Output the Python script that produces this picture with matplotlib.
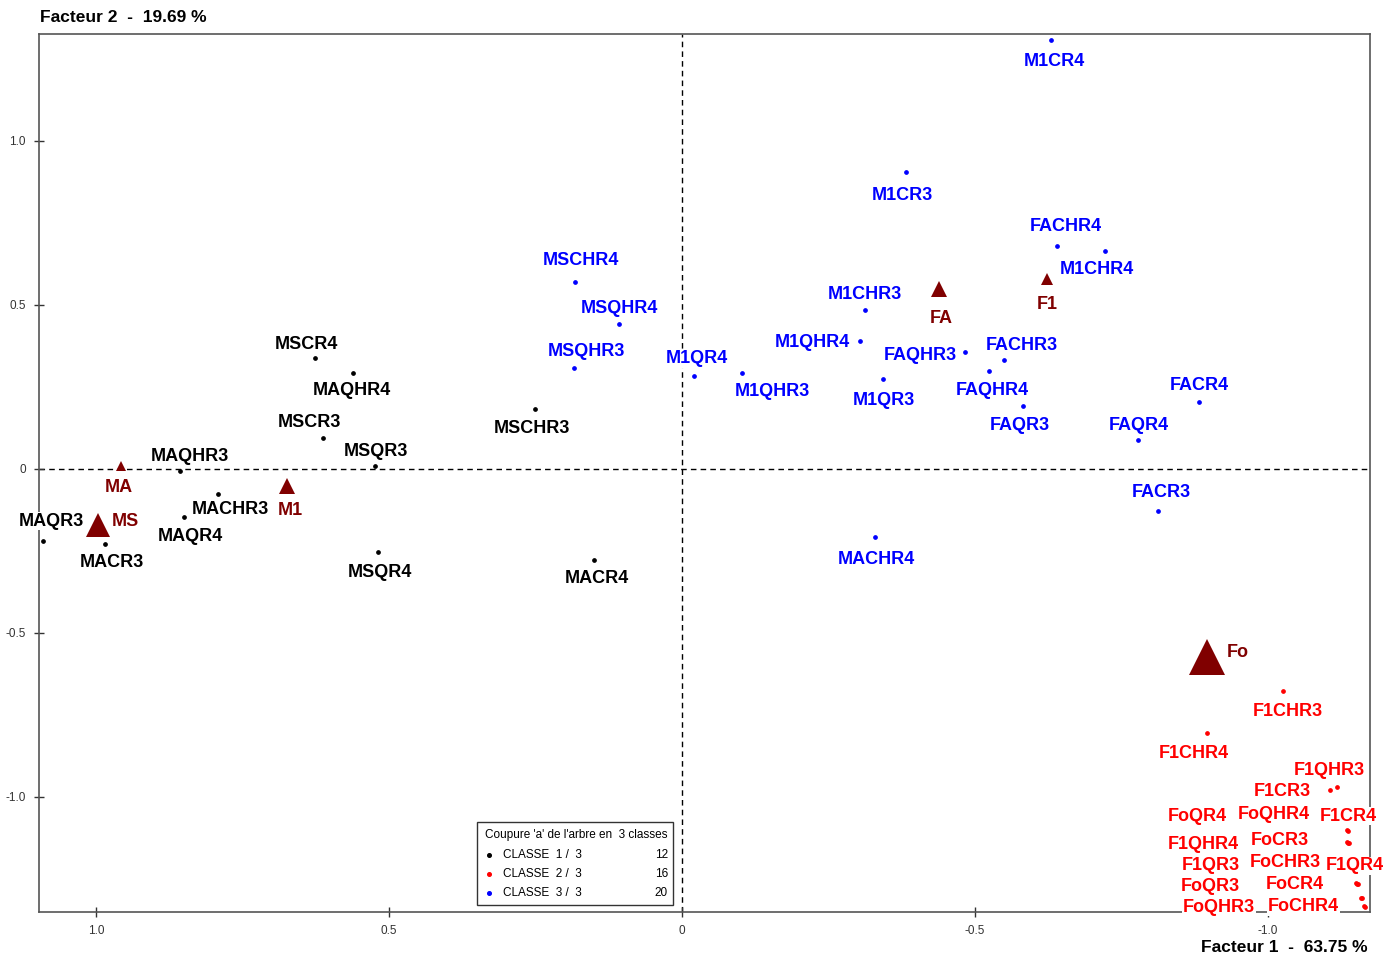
import matplotlib.pyplot as plt
from matplotlib.patches import Rectangle

plt.rcParams['font.family'] = ['Liberation Sans', 'DejaVu Sans']

# classe 1 / 3 (noir)
c1_names = ['MSCR4', 'MAQHR4', 'MSCR3', 'MSQR3', 'MSCHR3', 'MAQHR3',
            'MACHR3', 'MAQR4', 'MAQR3', 'MACR3', 'MSQR4', 'MACR4']
c1_x = [0.626, 0.561, 0.613, 0.524, 0.251, 0.857,
        0.792, 0.850, 1.090, 0.985, 0.519, 0.150]
c1_y = [0.338, 0.293, 0.095, 0.009, 0.183, -0.006,
        -0.076, -0.146, -0.220, -0.229, -0.253, -0.277]

# classe 2 / 3 (rouge)
c2_names = ['F1CHR3', 'F1CHR4', 'F1QHR3', 'F1CR3', 'F1CR4', 'FoQHR4',
            'FoQR4', 'F1QHR4', 'FoCR3', 'F1QR4', 'FoCHR3', 'F1QR3',
            'FoQR3', 'FoCR4', 'FoQHR3', 'FoCHR4']
c2_x = [-1.026, -0.896, -1.118, -1.106, -1.135, -1.136,
        -1.137, -1.138, -1.135, -1.150, -1.154, -1.152,
        -1.160, -1.159, -1.164, -1.165]
c2_y = [-0.677, -0.805, -0.970, -0.979, -1.101, -1.104,
        -1.140, -1.140, -1.137, -1.262, -1.265, -1.265,
        -1.308, -1.308, -1.332, -1.335]

# classe 3 / 3 (bleu)
c3_names = ['M1CR4', 'M1CR3', 'FACHR4', 'M1CHR4', 'MSCHR4', 'MSQHR4',
            'M1CHR3', 'MSQHR3', 'M1QR4', 'M1QHR4', 'FAQHR3', 'FACHR3',
            'M1QHR3', 'M1QR3', 'FAQHR4', 'FAQR3', 'FACR4', 'FAQR4',
            'FACR3', 'MACHR4']
c3_x = [-0.630, -0.382, -0.640, -0.722, 0.183, 0.108,
        -0.312, 0.184, -0.020, -0.304, -0.483, -0.549,
        -0.102, -0.343, -0.524, -0.582, -0.882, -0.778,
        -0.812, -0.329]
c3_y = [1.308, 0.905, 0.680, 0.665, 0.570, 0.442,
        0.485, 0.308, 0.284, 0.390, 0.357, 0.332,
        0.293, 0.274, 0.299, 0.192, 0.204, 0.088,
        -0.128, -0.207]

# modalites supplementaires (triangles)
sup_names = ['MA', 'MS', 'M1', 'FA', 'F1', 'Fo']
sup_x = [0.957, 0.997, 0.674, -0.439, -0.623, -0.896]
sup_y = [0.009, -0.171, -0.052, 0.549, 0.579, -0.573]

legend_rows = ['CLASSE  1 /  3', 'CLASSE  2 /  3', 'CLASSE  3 /  3']
legend_counts = [12, 16, 20]

# label offsets in pixels (dx right, dy down)
offs = {
    'MSCR4': (-9, -16), 'MAQHR4': (-1, 16), 'MSCR3': (-13, -17),
    'MSQR3': (1, -16), 'MSCHR3': (-3, 18), 'MAQHR3': (10, -16),
    'MACHR3': (13, 14), 'MAQR4': (7, 18), 'MAQR3': (8, -22),
    'MACR3': (7, 16), 'MSQR4': (2, 19), 'MACR4': (3, 17),
    'M1CR4': (3, 20), 'M1CR3': (-3, 21), 'FACHR4': (9, -21),
    'M1CHR4': (-8, 17), 'MSCHR4': (6, -23), 'MSQHR4': (1, -17),
    'M1CHR3': (0, -17), 'MSQHR3': (12, -18), 'M1QR4': (3, -19),
    'M1QHR4': (-48, 0), 'FAQHR3': (-45, 2), 'FACHR3': (18, -17),
    'M1QHR3': (31, 17), 'M1QR3': (1, 19), 'FAQHR4': (3, 18),
    'FAQR3': (-3, 18), 'FACR4': (0, -18), 'FAQR4': (1, -17),
    'FACR3': (3, -20), 'MACHR4': (2, 21),
    'F1CHR3': (5, 19), 'F1CHR4': (-13, 19), 'F1QHR3': (-8, -19),
    'F1CR3': (-48, 0), 'F1CR4': (1, -16), 'FoQHR4': (-74, -18),
    'FoQR4': (-151, -28), 'F1QHR4': (-146, 0), 'FoCR3': (-67, -3),
    'F1QR4': (-1, -19), 'FoCHR3': (-73, -23), 'F1QR3': (-146, -20),
    'FoQR3': (-151, -13), 'FoCR4': (-66, -15), 'FoQHR3': (-145, 0),
    'FoCHR4': (-61, -2),
    'MA': (-2, 20), 'MS': (28, -5), 'M1': (3, 23),
    'FA': (2, 28), 'F1': (0, 23), 'Fo': (31, -6),
}
sup_sizes = [7, 17, 11, 12, 8.5, 26]
dark = '#800000'

fig = plt.figure(figsize=(14, 9.56), dpi=100)
ax = fig.add_axes([39 / 1400, 44 / 956, 1331 / 1400, 878 / 956])
ax.set_xlim(1.097, -1.174)
ax.set_ylim(-1.351, 1.326)

ax.axhline(0, color='black', lw=1, ls=(0, (4, 3)), zorder=1)
ax.axvline(0, color='black', lw=1, ls=(0, (4, 3)), zorder=1)


def label(name, x, y, color):
    dx, dy = offs[name]
    ax.annotate(name, (x, y), xytext=(dx, -(dy + 2)),
                textcoords='offset pixels',
                ha='center', va='center', color=color, fontsize=13,
                fontweight='bold', annotation_clip=False, zorder=5,
                bbox=dict(facecolor='white', edgecolor='none', pad=0.5))


for names, xs, ys, col in [(c1_names, c1_x, c1_y, 'black'),
                           (c2_names, c2_x, c2_y, '#ff0000'),
                           (c3_names, c3_x, c3_y, '#0000ff')]:
    ax.plot(xs, ys, 'o', color=col, ms=2.4, ls='none', zorder=6, clip_on=False)
    for n, x, y in zip(names, xs, ys):
        label(n, x, y, col)

for n, x, y, s in zip(sup_names, sup_x, sup_y, sup_sizes):
    ax.plot(x, y, '^', color=dark, ms=s, mew=0, zorder=6)
    label(n, x, y, dark)

ax.set_xticks([1.0, 0.5, 0, -0.5, -1.0])
ax.set_xticklabels(['1.0', '0.5', '0', '-0.5', '-1.0'])
ax.set_yticks([1.0, 0.5, 0, -0.5, -1.0])
ax.set_yticklabels(['1.0', '0.5', '0', '-0.5', '-1.0'])
ax.tick_params(direction='inout', length=7, width=1, color='#333333',
               labelsize=8.5, labelcolor='#333333', pad=6)
for sp in ax.spines.values():
    sp.set_color('#555555')
    sp.set_linewidth(1.2)
    sp.set_zorder(3)

fig.text(40 / 1400, 1 - 18 / 956, 'Facteur 2  -  19.69 %', fontsize=12.5,
         fontweight='bold', va='center', ha='left')
fig.text(1368 / 1400, 1 - 948 / 956, 'Facteur 1  -  63.75 %', fontsize=12.5,
         fontweight='bold', va='center', ha='right')

# legend box
def ax_x(px):
    return (px - 39) / 1331


def ax_y(py):
    return (912 - py) / 878


ax.add_patch(Rectangle((ax_x(477), ax_y(905)), ax_x(673) - ax_x(477),
                       ax_y(822) - ax_y(905), transform=ax.transAxes,
                       facecolor='white', edgecolor='#333333', lw=1, zorder=7))
ax.text(ax_x(576), ax_y(835), "Coupure 'a' de l'arbre en  3 classes",
        transform=ax.transAxes, fontsize=8.5, ha='center', va='center', zorder=8)
for i, (row, cnt, col) in enumerate(zip(legend_rows, legend_counts,
                                        ['black', '#ff0000', '#0000ff'])):
    yy = ax_y(855 + 19 * i)
    ax.plot(ax_x(489), yy, 'o', color=col, ms=2.6, transform=ax.transAxes,
            zorder=8)
    ax.text(ax_x(503), yy, row, transform=ax.transAxes, fontsize=8.5,
            ha='left', va='center', zorder=8)
    ax.text(ax_x(668), yy, str(cnt), transform=ax.transAxes, fontsize=8.5,
            ha='right', va='center', zorder=8)

fig.savefig('out.png', dpi=100)
